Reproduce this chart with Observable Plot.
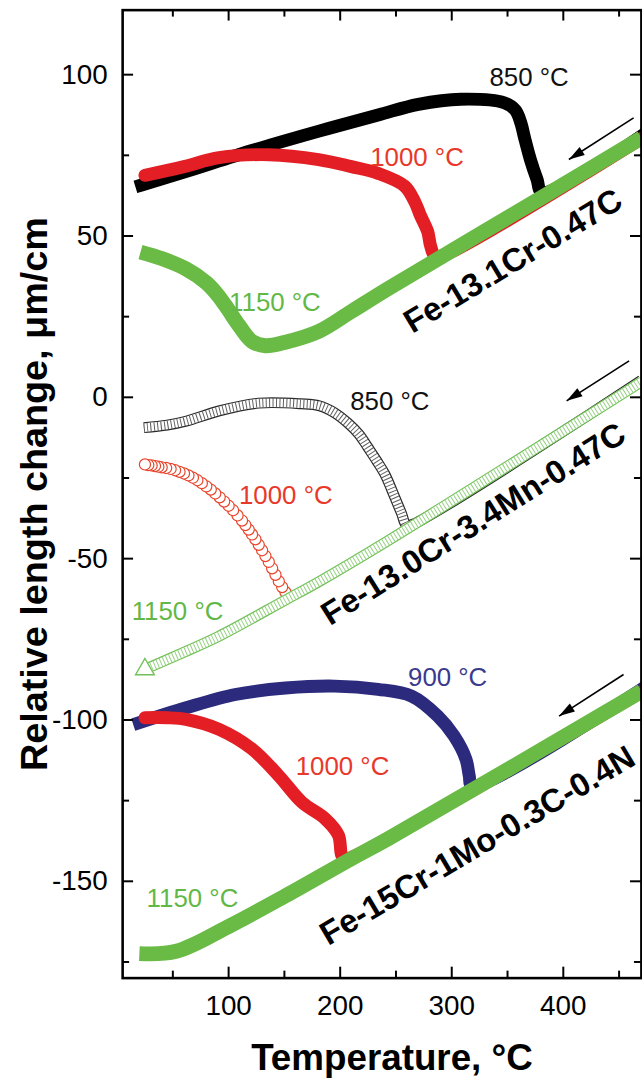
<!DOCTYPE html>
<html>
<head>
<meta charset="utf-8">
<script src="https://cdn.jsdelivr.net/npm/d3@7"></script>
<script src="https://cdn.jsdelivr.net/npm/@observablehq/plot@0.6"></script>
<style>
  html, body { margin: 0; padding: 0; background: #fff; overflow: hidden; }
  #chart svg { display: block; }
</style>
</head>
<body>
<div id="chart"></div>
<script>
// Dilatometry cooling curves: relative length change vs temperature
// for three steels, each austenitized at several temperatures.

// --- Fe-13.1Cr-0.47C (filled markers) ---
const a1_850_T  = [22, 60, 121, 181, 234, 270, 308, 347, 357, 362, 365, 370.5, 376.5, 381, 470];
const a1_850_dL = [65.8, 69.8, 76.5, 82.5, 87.5, 90.8, 92.4, 91.3, 89, 85, 80.8, 73.7, 67.5, 63.5, 81];

const a1_1000_T  = [25, 60, 91.5, 136, 180.6, 210, 234, 258, 267, 272, 278.5, 281, 285, 296, 470];
const a1_1000_dL = [68.8, 71.5, 74.3, 75.2, 73.7, 71.5, 69.4, 65.4, 60.5, 56.3, 51.3, 47, 43.8, 44.5, 80.2];

const a1_1150_T  = [21, 40, 61.8, 80, 90, 99, 109, 121, 133, 150, 180.6, 210, 243, 381, 470];
const a1_1150_dL = [45, 43, 39.8, 35.5, 31.8, 27.5, 22.4, 17.3, 16, 17, 20.4, 26.6, 33.7, 62, 80.4];

// --- Fe-13.0Cr-3.4Mn-0.47C (open markers) ---
const a2_850_T  = [24, 45, 61.8, 91.5, 127, 165, 181, 195, 207, 217, 225, 233, 240, 249, 255, 259, 263, 470];
const a2_850_dL = [-9.4, -8.6, -7.4, -4.2, -1.8, -2, -2.6, -4.8, -8, -11.5, -15.6, -19.8, -23.8, -31, -36, -39.5, -39.6, 5.3];

const a2_1000_T  = [25, 28, 31, 34, 37, 40, 44, 48, 52, 56, 60, 64, 68, 72, 76, 80, 84, 88, 92, 96, 100, 104, 108, 112, 115, 118, 121, 124, 127, 130, 133, 136, 139, 142, 145, 148, 151];
const a2_1000_dL = [-20.8, -21, -21.1, -21.3, -21.5, -21.7, -21.9, -22.2, -22.6, -23.1, -23.6, -24.2, -24.9, -25.7, -26.6, -27.6, -28.6, -29.8, -31, -32.3, -33.6, -35, -36.6, -38.2, -39.6, -41, -42.5, -44, -45.7, -47.4, -49.2, -51, -53, -55, -57, -58.8, -60.4];

const a2_1150_T  = [25, 60, 91.5, 151, 180.6, 243, 470];
const a2_1150_dL = [-84.3, -79, -74, -62.8, -57.2, -44.4, 4.8];

// --- Fe-15Cr-1Mo-0.3C-0.4N (filled markers) ---
const a3_900_T  = [20, 62, 106, 151, 195, 234, 264, 287.5, 302, 312.7, 315.7, 318, 470];
const a3_900_dL = [-100.8, -96.2, -92.1, -90.1, -89.5, -90.5, -92.6, -98.8, -104.9, -112.1, -117.3, -120.5, -90.5];

const a3_1000_T  = [25, 45, 61.8, 91.5, 121, 145, 165.7, 186.5, 198.4, 201.3, 204, 210, 470];
const a3_1000_dL = [-99.3, -99.3, -99.8, -102.9, -109, -117.3, -125.5, -130.6, -135.7, -141.9, -143, -142.6, -91.3];

const a3_1150_T  = [20, 53, 100, 151, 210, 243, 470];
const a3_1150_dL = [-172.4, -171.7, -164, -154.5, -143, -136.8, -91.1];

// Axis ticks
const xMajor = [100, 200, 300, 400];
const xMinor = [50, 150, 250, 350, 450];
const yMajor = [-150, -100, -50, 0, 50, 100];
const yMinor = [-175, -125, -75, -25, 25, 75];

// Curve labels: text, anchor temperature and length change
const curveLabels = [
  {text: "850 °C",  T: 333.8, dL: 96.4,  color: "#111"},
  {text: "1000 °C", T: 226.9, dL: 71.6,  color: "#e8382a"},
  {text: "1150 °C", T: 100.4, dL: 26.9,  color: "#62b846"},
  {text: "850 °C",  T: 209,   dL: -3.9,  color: "#111"},
  {text: "1000 °C", T: 109.3, dL: -33.2, color: "#e8382a"},
  {text: "1150 °C", T: 13.1,  dL: -68.9, color: "#62b846"},
  {text: "900 °C",  T: 260.8, dL: -89.5, color: "#3a3a8e"},
  {text: "1000 °C", T: 160.1, dL: -117.2, color: "#e8382a"},
  {text: "1150 °C", T: 26.5,  dL: -157.9, color: "#62b846"}
];

// Alloy names set along the common cooling lines
const alloyLabels = [
  {text: "Fe-13.1Cr-0.47C",       T: 355,   dL: 42.2,  angle: -31},
  {text: "Fe-13.0Cr-3.4Mn-0.47C", T: 319.5, dL: -39.3, angle: -32},
  {text: "Fe-15Cr-1Mo-0.3C-0.4N", T: 323,   dL: -139,  angle: -30.5}
];

// Cooling-direction arrows (tail -> head)
const coolingArrows = [
  {T1: 463, dL1: 86.6,  T2: 405,   dL2: 73.7},
  {T1: 459, dL1: 11.3,  T2: 403,   dL2: -1.1},
  {T1: 454, dL1: -85.9, T2: 396.2, dL2: -98.8}
];

const rows = (T, dL) => T.map((t, i) => ({T: t, dL: dL[i]}));

const W = 646, H = 1089;
const mL = 122.9, mR = 1.1, mT = 9.7, mB = 105.3;
const frameW = W - mL - mR, frameH = H - mT - mB;

const RED = "#e31e24", GREEN = "#69bb45", NAVY = "#2b2a7c";

// Narrow filled arrowhead with its tip at the origin, pointing up.
const arrowHead = {
  draw(context, size) {
    const len = Math.sqrt(size), half = len * 0.3;
    context.moveTo(0, 0);
    context.lineTo(half, len);
    context.lineTo(-half, len);
    context.closePath();
  }
};

function band(data, color, width, cap) {
  return Plot.line(data, {x: "T", y: "dL", stroke: color, strokeWidth: width,
    curve: "catmull-rom", strokeLinejoin: "round", strokeLinecap: cap, clip: true});
}

function hollowBand(data, color, width) {
  return [
    Plot.line(data, {x: "T", y: "dL", stroke: color, strokeWidth: width, curve: "catmull-rom",
      strokeLinejoin: "round", strokeLinecap: "butt", clip: true}),
    Plot.line(data, {x: "T", y: "dL", stroke: "white", strokeWidth: width - 2.4, curve: "catmull-rom",
      strokeLinejoin: "round", strokeLinecap: "butt", clip: true}),
    Plot.line(data, {x: "T", y: "dL", stroke: color, strokeWidth: width - 2.4, curve: "catmull-rom",
      strokeDasharray: "1 2.4", strokeOpacity: 0.75, strokeLinecap: "butt", clip: true})
  ];
}

const chart = Plot.plot({
  width: W, height: H,
  marginLeft: mL, marginRight: mR, marginTop: mT, marginBottom: mB,
  x: {domain: [5, 470], axis: null},
  y: {domain: [-180, 120], axis: null},
  style: {fontFamily: "Arial, 'Liberation Sans', sans-serif", background: "white", color: "black"},
  marks: [
    // Fe-13.1Cr-0.47C
    band(rows(a1_850_T, a1_850_dL), "#000", 13, "square"),
    band(rows(a1_1000_T, a1_1000_dL), RED, 13, "round"),
    band(rows(a1_1150_T, a1_1150_dL), GREEN, 15, "butt"),

    // Fe-13.0Cr-3.4Mn-0.47C; points are drawn in cooling order so the coolest lies on top
    ...hollowBand(rows(a2_850_T, a2_850_dL), "#2a2a2a", 11),
    Plot.dot(rows(a2_1000_T, a2_1000_dL).reverse(), {x: "T", y: "dL", r: 5.6, stroke: "#e8452c",
      strokeWidth: 1.2, fill: "white"}),
    ...hollowBand(rows(a2_1150_T, a2_1150_dL), "#72c058", 11),
    Plot.dot(rows(a2_1150_T, a2_1150_dL).slice(0, 1), {x: "T", y: "dL", symbol: "triangle",
      r: 7, stroke: "#72c058", strokeWidth: 1.4, fill: "white"}),

    // Fe-15Cr-1Mo-0.3C-0.4N
    band(rows(a3_900_T, a3_900_dL), NAVY, 13, "square"),
    band(rows(a3_1000_T, a3_1000_dL), RED, 13, "round"),
    band(rows(a3_1150_T, a3_1150_dL), GREEN, 15, "butt"),

    // curve labels
    Plot.text(curveLabels, {x: "T", y: "dL", text: "text", fill: "color", fontSize: 26,
      textAnchor: "start", lineAnchor: "bottom"}),
    Plot.text(alloyLabels, {x: "T", y: "dL", text: "text", rotate: "angle", fontSize: 33,
      fontWeight: "bold", fill: "black", textAnchor: "middle", lineAnchor: "middle"}),

    // cooling arrows: thin shaft plus a filled head
    Plot.link(coolingArrows, {x1: "T1", y1: "dL1", x2: "T2", y2: "dL2", stroke: "black", strokeWidth: 1.6}),
    Plot.dot(coolingArrows, {x: "T2", y: "dL2", symbol: arrowHead, r: 9, rotate: -123,
      fill: "black", stroke: "none"}),

    // ticks pointing into the frame on all four sides
    Plot.tickY(yMajor, {y: d => d, insetRight: frameW - 11, strokeWidth: 2}),
    Plot.tickY(yMinor, {y: d => d, insetRight: frameW - 7, strokeWidth: 2}),
    Plot.tickY(yMajor, {y: d => d, insetLeft: frameW - 11, strokeWidth: 2}),
    Plot.tickY(yMinor, {y: d => d, insetLeft: frameW - 7, strokeWidth: 2}),
    Plot.tickX(xMajor, {x: d => d, insetTop: frameH - 11, strokeWidth: 2}),
    Plot.tickX(xMinor, {x: d => d, insetTop: frameH - 7, strokeWidth: 2}),
    Plot.tickX(xMajor, {x: d => d, insetBottom: frameH - 11, strokeWidth: 2}),
    Plot.tickX(xMinor, {x: d => d, insetBottom: frameH - 7, strokeWidth: 2}),
    Plot.frame({stroke: "black", strokeWidth: 2.6}),

    // tick labels
    Plot.axisY({ticks: yMajor, tickSize: 0, tickPadding: 15, fontSize: 28, tickFormat: d => String(d), label: null}),
    Plot.axisX({ticks: xMajor, tickSize: 0, tickPadding: 17, fontSize: 28, tickFormat: d => String(d), label: null}),

    // axis titles
    Plot.text(["Relative length change, μm/cm"], {frameAnchor: "left", dx: -88, rotate: -90,
      fontSize: 38, fontWeight: "bold", textAnchor: "middle", lineAnchor: "middle"}),
    Plot.text(["Temperature, °C"], {frameAnchor: "bottom", dx: 10, dy: 81,
      fontSize: 37, fontWeight: "bold", textAnchor: "middle", lineAnchor: "middle"})
  ]
});

document.getElementById("chart").appendChild(chart);
</script>
</body>
</html>
